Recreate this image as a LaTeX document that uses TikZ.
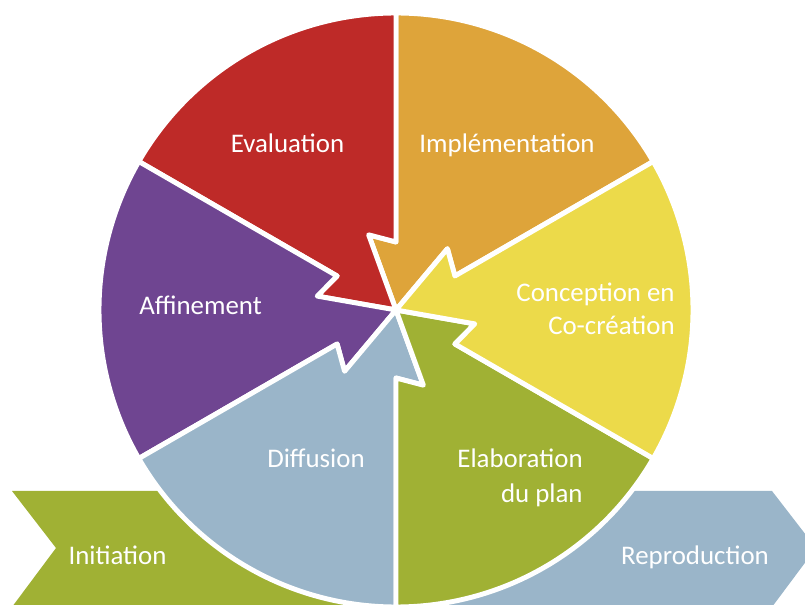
\documentclass[tikz,border=0pt]{standalone}
\usepackage{fontspec}
\setmainfont{Carlito}
\usetikzlibrary{calc}
\definecolor{evalred}{RGB}{190,42,40}
\definecolor{implorange}{RGB}{222,164,58}
\definecolor{concyellow}{RGB}{236,218,74}
\definecolor{elabgreen}{RGB}{160,177,52}
\definecolor{diffblue}{RGB}{154,181,201}
\definecolor{affpurple}{RGB}{111,69,145}
\def\segment[#1](#2)(#3){\draw[#1] (#2) -- ($(#2)+({#3+20}:80)$) -- ($(#2)+(#3:68)$) -- ($(#2)+(#3:297)$) arc (#3:#3+60:297) -- ($(#2)+({#3+60}:68)$) -- ($(#2)+({#3+80}:80)$) -- cycle;}

\begin{document}
\begin{tikzpicture}[x=0.02cm, y=0.02cm,
		segtext/.style={text=white, font=\fontsize{15.3}{18.7}\selectfont, inner sep=0pt}]
			%%%%% START %%%%%
			\useasboundingbox (0, 0) rectangle (805, 605);
			\clip (0, 0) rectangle (805, 605);
			
			\draw[fill=elabgreen, draw=none] (12, 114) -- (380, 114) -- (424, 57) -- (380, -2) -- (12, -2) -- (56, 57) -- cycle;
			\draw[fill=diffblue, draw=none] (410, 114) -- (772, 114) -- (816, 57) -- (772, -2) -- (410, -2) -- (454, 57) -- cycle;
			
			\coordinate (c) at (396, 295);
			
			\segment[fill=implorange, draw=white, line width=2.8pt, line join=round](c)(30)
			\segment[fill=evalred, draw=white, line width=2.8pt, line join=round](c)(90)
			\segment[fill=affpurple, draw=white, line width=2.8pt, line join=round](c)(150)
			\segment[fill=diffblue, draw=white, line width=2.8pt, line join=round](c)(210)
			\segment[fill=elabgreen, draw=white, line width=2.8pt, line join=round](c)(270)
			\segment[fill=concyellow, draw=white, line width=2.8pt, line join=round](c)(-30)
			
			\node[segtext, anchor=base] (evaluation) at (287.5, 452) {Evaluation};
			\node[segtext, anchor=base] (implementation) at (507, 452) {Implémentation};
			\node[segtext, anchor=base east] (conception) at (675, 303) {Conception en};
			\node[segtext, anchor=base east] (cocreation) at (675, 270) {Co-création};
			\node[segtext, anchor=base east] (elaboration) at (583, 137) {Elaboration};
			\node[segtext, anchor=base east] (duplan) at (583, 102) {du plan};
			\node[segtext, anchor=base] (diffusion) at (316, 137) {Diffusion};
			\node[segtext, anchor=base] (affinement) at (200.5, 290) {Affinement};
			
			\node[segtext, anchor=base] (initiation) at (117.5, 40) {Initiation};
			\node[segtext, anchor=base] (reproduction) at (695, 40) {Reproduction};
			
			%%%%% END %%%%%
		\end{tikzpicture}
\end{document}
